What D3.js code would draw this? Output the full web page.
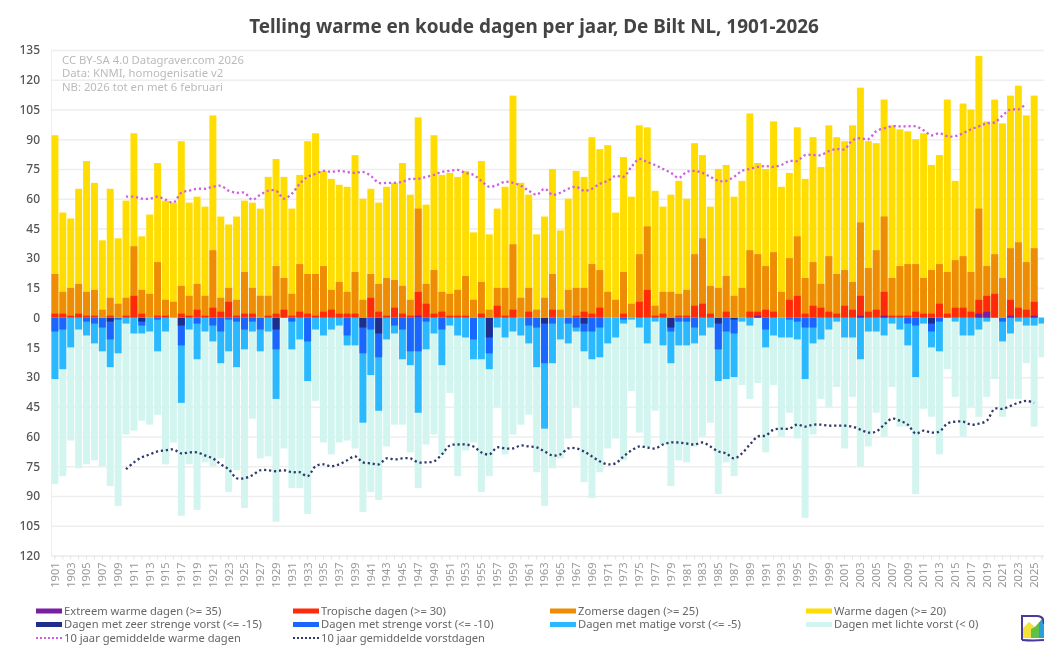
<!DOCTYPE html>
<html>
<head>
<meta charset="utf-8">
<script src="https://cdn.jsdelivr.net/npm/d3@7"></script>
<style>
  html, body { margin: 0; padding: 0; background: #fff; overflow: hidden; }
  svg { display: block; font-family: "Noto Sans", sans-serif; filter: blur(0.7px); }
</style>
</head>
<body>
<svg id="chart" width="1044" height="645"></svg>
<script>
// values, one row per decade (1901-2026)
var warm = [
  92,53,50,65,79,68,39,65,40,59,
  93,41,52,78,59,58,89,58,61,56,
  102,51,47,51,59,58,55,71,80,71,
  55,72,89,93,74,70,67,66,82,60,
  65,58,66,68,78,62,101,57,92,72,
  73,71,74,43,79,42,55,66,112,68,
  62,42,51,75,44,60,74,71,91,85,
  87,53,81,61,97,96,64,56,62,69,
  60,88,82,56,75,77,61,69,103,78,
  75,99,66,73,96,70,91,76,97,91,
  89,97,116,89,88,110,97,95,94,90,
  93,77,82,110,69,108,105,132,99,110,
  98,112,117,102,112,0 ];
var summer = [
  22,13,15,17,13,14,4,10,7,10,
  36,14,12,28,9,8,16,11,17,11,
  34,10,15,9,23,15,11,11,26,20,
  12,27,22,22,26,14,18,13,23,9,
  22,17,20,19,16,9,55,17,24,13,
  12,14,21,9,18,4,15,15,37,10,
  15,4,10,22,4,14,15,15,27,24,
  13,9,23,7,32,46,6,13,13,12,
  14,32,40,16,15,21,11,15,34,32,
  26,33,13,30,41,20,28,17,31,22,
  24,18,48,25,34,51,20,26,27,27,
  20,24,27,23,29,31,23,55,26,32,
  20,35,38,28,35,0 ];
var tropical = [
  2,2,1,2,1,1,0,1,0,1,
  11,2,0,1,1,0,2,1,4,1,
  5,3,8,1,2,2,0,1,2,4,
  1,3,2,1,3,4,2,2,2,0,
  10,3,1,5,2,1,13,7,2,3,
  1,1,1,0,2,0,6,1,4,0,
  3,0,0,4,0,0,1,3,2,5,
  0,0,2,0,8,14,1,2,0,1,
  1,6,7,2,0,3,0,0,3,3,
  4,3,0,9,11,2,6,5,3,2,
  6,4,11,3,4,13,1,1,1,3,
  2,2,7,2,5,5,3,9,11,12,
  0,9,5,4,8,0 ];
var extreme = [
  0,0,0,0,0,0,0,0,0,0,
  0,0,0,0,0,0,0,0,0,0,
  0,0,0,0,0,0,0,0,0,0,
  0,0,0,0,0,0,0,0,0,0,
  0,0,0,0,0,0,1,0,0,0,
  0,0,0,0,0,0,0,0,0,0,
  0,0,0,0,0,0,0,0,0,0,
  0,0,0,0,0,0,0,0,0,0,
  0,0,0,0,0,0,0,0,0,1,
  0,0,0,0,0,0,0,0,0,0,
  0,0,1,0,0,1,0,0,0,0,
  0,0,0,0,0,0,0,2,3,0,
  0,1,0,0,1,0 ];
var lightFrost = [
  84,80,62,76,74,72,75,85,95,59,
  57,52,54,49,74,63,100,74,97,73,
  75,71,88,77,96,51,71,70,103,66,
  86,86,99,42,63,69,63,62,66,98,
  88,92,65,54,54,68,86,64,59,69,
  38,80,67,63,88,80,45,69,59,54,
  49,78,95,76,71,61,45,83,91,78,
  66,61,72,37,58,65,47,64,85,72,
  73,65,60,53,89,73,80,34,41,33,
  68,34,60,48,61,101,59,41,45,35,
  66,40,75,65,48,60,35,55,55,89,
  46,50,69,26,40,60,45,50,40,31,
  50,41,41,23,55,20 ];
var moderateFrost = [
  31,26,15,6,9,13,17,25,18,3,
  8,8,7,17,7,0,43,6,21,7,
  12,23,17,25,16,7,17,7,41,0,
  16,11,32,6,9,6,4,14,14,53,
  29,47,11,8,21,24,48,16,8,24,
  4,9,10,21,21,26,5,10,7,9,
  13,25,56,23,11,13,7,17,21,20,
  13,10,3,1,5,13,2,14,23,14,
  14,13,9,5,32,31,30,2,4,0,
  15,9,10,10,11,31,13,11,6,2,
  10,10,21,7,7,9,3,6,14,30,
  3,15,17,0,2,9,9,6,2,0,
  12,8,2,4,4,3 ];
var strongFrost = [
  7,6,0,0,2,3,5,11,1,0,
  0,4,0,1,0,0,14,0,3,0,
  4,7,1,2,6,2,6,0,16,0,
  2,0,12,0,0,0,0,9,0,18,
  6,20,0,4,6,17,17,2,0,6,
  0,0,0,11,0,18,0,0,0,0,
  4,5,23,3,0,3,5,7,7,5,
  0,0,1,0,0,0,0,0,7,2,
  2,5,0,0,16,7,8,0,0,0,
  6,0,0,1,2,5,5,0,0,0,
  0,0,0,0,0,0,0,0,3,4,
  0,7,2,0,0,0,0,0,0,0,
  2,0,0,0,0,0 ];
var severeFrost = [
  0,0,0,0,0,0,0,2,0,0,
  0,2,0,0,0,0,4,0,0,0,
  0,0,0,0,0,0,0,0,6,0,
  0,0,0,0,0,0,0,0,0,5,
  0,8,0,0,0,0,0,0,0,0,
  0,0,0,0,0,10,0,0,0,0,
  0,0,3,0,0,0,0,3,0,0,
  0,0,0,0,0,0,0,0,5,0,
  0,0,0,0,3,0,1,0,0,0,
  0,0,0,0,0,0,0,0,0,0,
  0,0,0,0,0,0,0,0,0,0,
  0,3,0,0,0,0,0,0,0,0,
  0,0,0,0,0,0 ];
// 10 year averages, first value belongs to 1910, last to 2025
var avgWarm = [
  61,61,60,60,61,59.5,58,63,64,65,
  65,66,66.5,64,63,63,59.5,62,64,64,
  60,62.5,67.5,71,72.5,74,73.5,74,73.5,73,
  73.5,71.5,68,68,68,68.5,70,70,71,72,
  73.5,74,74.5,73,72,69,66,67,68.5,68,
  66.5,64,62,65,62,63,65,66,64,65,
  67.5,69,71.5,71,76,80,78.5,77,75,73,
  70.5,73.5,74,73,71,69,69,71,74,75,
  76,76.5,76,77,79,79,82,82,82,84,
  85,85,89.5,90.5,90,94,95.5,96.5,96.5,96.5,
  96.5,94.5,92,93,91.5,91.5,93,95,96.5,98,
  98.5,102,105,105,108 ];
var avgFrost = [
  76.5,73,70.5,69,67.5,67,66.5,68.5,68,68,
  69.5,71,74,76.5,81,81,79.5,77,77,77.5,
  77,78,78,80,75,74,75,74,72,70,
  73,73.5,74,71,71.5,71,71,73,73,72.5,
  69,64.5,64,64,65,68,69,65.5,66,66,
  64.5,65,65.5,67.5,69.5,69,66,66,67.5,70,
  72.5,74,73.5,70,67,65,65.5,66,64,63,
  63,63.5,64,63,65,67.5,68.5,71,68.5,64,
  60,59.5,56.5,56,56,54,55,54,54,54.5,
  54.5,54.5,55,56.5,58,57.5,54,51,52,54,
  58.5,57,58,57.5,53.5,52.5,52.5,54,53.5,52,
  46,46,44.5,43,42,43 ];
var yearLabels = d3.range(1901, 2027);
var yTicks = d3.range(-120, 136, 15);

var colors = {
  extreme: "#7b1fa2", tropical: "#ff2a0a", summer: "#ee8c05", warm: "#ffdd00",
  severe: "#1f2e8c", strong: "#1a66ff", moderate: "#2ab8ff", light: "#d2f5f0",
  avgWarm: "#cf5fe0", avgFrost: "#2f3a6a"
};

var legendRows = [
  [ {t:"Extreem warme dagen (>= 35)", c:colors.extreme}, {t:"Tropische dagen (>= 30)", c:colors.tropical},
    {t:"Zomerse dagen (>= 25)", c:colors.summer}, {t:"Warme dagen (>= 20)", c:colors.warm} ],
  [ {t:"Dagen met zeer strenge vorst (<= -15)", c:colors.severe}, {t:"Dagen met strenge vorst (<= -10)", c:colors.strong},
    {t:"Dagen met matige vorst (<= -5)", c:colors.moderate}, {t:"Dagen met lichte vorst (< 0)", c:colors.light} ],
  [ {t:"10 jaar gemiddelde warme dagen", c:colors.avgWarm, dot:true}, {t:"10 jaar gemiddelde vorstdagen", c:colors.avgFrost, dot:true} ]
];

var svg = d3.select("#chart");
var x = d3.scaleBand().domain(yearLabels).range([51, 1046]).paddingInner(0.12).paddingOuter(0.06);
var y = d3.scaleLinear().domain([-120, 135]).range([555.5, 50]);

svg.append("text").text("Telling warme en koude dagen per jaar, De Bilt NL, 1901-2026")
  .attr("x", 534).attr("y", 33).attr("text-anchor", "middle")
  .attr("font-size", 18.9).attr("font-weight", 700).attr("fill", "#444");

// gridlines come from the left axis
var yAxis = svg.append("g").attr("transform", "translate(51,0)")
  .call(d3.axisLeft(y).tickValues(yTicks).tickSize(-993).tickPadding(11).tickFormat(d => Math.abs(d)));
yAxis.select(".domain").attr("stroke", "#eee");
yAxis.selectAll(".tick line").attr("stroke", "#eee").attr("stroke-width", 1.6);
yAxis.selectAll("text").attr("font-size", 12).attr("font-weight", 500).attr("fill", "#555")
  .attr("font-family", "Noto Sans");

var xAxis = svg.append("g").attr("transform", "translate(0,555.5)")
  .call(d3.axisBottom(x).tickSize(4).tickPadding(3).tickFormat(d => (d % 2 == 1 ? d : "")));
xAxis.select(".domain").remove();
xAxis.selectAll(".tick line").attr("stroke", "#e4e4e4");
xAxis.selectAll("text").attr("transform", "rotate(-90)").attr("text-anchor", "end")
  .attr("x", -7).attr("dy", "0.35em").attr("y", 0)
  .attr("font-size", 11).attr("fill", "#999").attr("font-family", "Noto Sans");

// warm bars overlap from zero, largest count first
function drawBars(values, color, sign) {
  svg.append("g").selectAll("rect").data(values).enter().append("rect")
    .attr("x", (d,i) => x(yearLabels[i]))
    .attr("width", x.bandwidth())
    .attr("y", d => sign > 0 ? y(d) : y(0))
    .attr("height", d => Math.abs(y(d) - y(0)))
    .attr("fill", color);
}
drawBars(lightFrost, colors.light, -1);
drawBars(moderateFrost, colors.moderate, -1);
drawBars(strongFrost, colors.strong, -1);
drawBars(severeFrost, colors.severe, -1);
drawBars(warm, colors.warm, 1);
drawBars(summer, colors.summer, 1);
drawBars(tropical, colors.tropical, 1);
drawBars(extreme, colors.extreme, 1);

var lineX = i => x(1910 + i) + x.bandwidth() / 2;
svg.append("path").datum(avgWarm)
  .attr("d", d3.line().x((d,i) => lineX(i)).y(d => y(d)).curve(d3.curveCatmullRom))
  .attr("fill", "none").attr("stroke", colors.avgWarm).attr("stroke-width", 2.3).attr("stroke-dasharray", "2.2 2.8");
svg.append("path").datum(avgFrost)
  .attr("d", d3.line().x((d,i) => lineX(i)).y(d => y(-d)).curve(d3.curveCatmullRom))
  .attr("fill", "none").attr("stroke", colors.avgFrost).attr("stroke-width", 2.3).attr("stroke-dasharray", "2.2 2.8");

// source note
var note = ["CC BY-SA 4.0 Datagraver.com 2026", "Data: KNMI, homogenisatie v2", "NB: 2026 tot en met 6 februari"];
svg.append("g").selectAll("text").data(note).enter().append("text").text(d => d)
  .attr("x", 62).attr("y", (d,i) => 64 + i * 13.4)
  .attr("font-size", 11.3).attr("fill", "#bbb");

// legend, rows squeezed a little so the last one stays on the page
var colX = [36, 293, 550, 806];
var rowYs = [611, 624.5, 638];
legendRows.forEach(function(row, r) {
  row.forEach(function(item, c) {
    var g = svg.append("g").attr("transform", "translate(" + colX[c] + "," + rowYs[r] + ")");
    if (item.dot) {
      g.append("line").attr("x1", 0).attr("x2", 26).attr("stroke", item.c)
        .attr("stroke-width", 2).attr("stroke-dasharray", "2 2");
    } else {
      g.append("rect").attr("x", 0).attr("y", -2.5).attr("width", 26).attr("height", 5).attr("fill", item.c);
    }
    g.append("text").text(item.t).attr("x", 28).attr("y", 3.5)
      .attr("font-size", 11.2).attr("fill", "#666");
  });
});

// small logo bottom right
var logo = svg.append("g").attr("transform", "translate(1021,614)");
logo.append("path").attr("d", "M2,24 L2,14 L8,8 L14,13 L22,4 L24,24 Z").attr("fill", "#f2e33a");
logo.append("path").attr("d", "M10,24 L10,15 L14,13 L22,4 L24,24 Z").attr("fill", "#5fc04a");
logo.append("path").attr("d", "M18,24 L18,9 L22,4 L24,24 Z").attr("fill", "#2a9fd8");
logo.append("path").attr("d", "M1,26 L1,2 L16,2 Q23,2 23,10").attr("fill", "none").attr("stroke", "#4a3a9a").attr("stroke-width", 2);
logo.append("path").attr("d", "M1,26 Q12,27 24,26").attr("fill", "none").attr("stroke", "#4a3a9a").attr("stroke-width", 2);
</script>
</body>
</html>
